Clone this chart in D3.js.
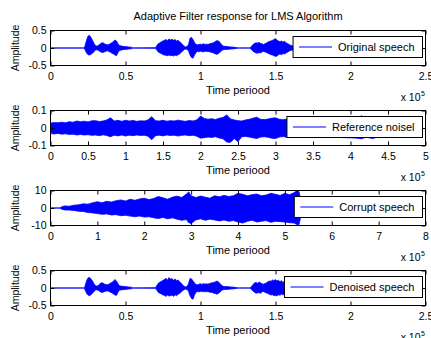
<!DOCTYPE html>
<html>
<head>
<meta charset="utf-8">
<script src="https://cdn.jsdelivr.net/npm/d3@7"></script>
<style>
  body { margin: 0; background: #fff; }
  svg { display: block; font-family: Arial, "Liberation Sans", sans-serif; }
</style>
</head>
<body>
<script>
// ---- data (time in units of 1e5 samples, envelope of each waveform) ----
var chartTitle = "Adaptive Filter response for LMS Algorithm";
var legendLabels = ["Original speech", "Reference noisel", "Corrupt speech", "Denoised speech"];
var xLabel = "Time periood";
var yLabel = "Amplitude";

var speechT = [0, 0.225,
  0.23, 0.24, 0.25, 0.26, 0.27, 0.28, 0.29, 0.30, 0.31, 0.32, 0.33, 0.34, 0.35, 0.36, 0.37, 0.38, 0.39, 0.40, 0.41, 0.42, 0.43, 0.44, 0.45, 0.46,
  0.48, 0.50, 0.52, 0.54, 0.55,
  0.70, 0.71, 0.72, 0.73, 0.74, 0.75, 0.76, 0.77, 0.78, 0.79, 0.80, 0.81, 0.82, 0.83, 0.84, 0.85, 0.86, 0.87, 0.88, 0.89,
  0.90, 0.91, 0.92, 0.93, 0.94, 0.95, 0.96, 0.97, 0.98, 0.99, 1.00, 1.01, 1.02, 1.03, 1.04, 1.05, 1.06, 1.07, 1.08, 1.09, 1.10, 1.11, 1.12, 1.13, 1.14, 1.15, 1.16,
  1.18, 1.20, 1.23, 1.25, 1.33,
  1.34, 1.35, 1.36, 1.37, 1.38, 1.39, 1.40, 1.41, 1.42, 1.43, 1.44, 1.45, 1.46, 1.47, 1.48, 1.49, 1.50, 1.51, 1.52, 1.53, 1.54, 1.55, 1.56, 1.57, 1.58, 1.59, 1.60,
  1.62, 1.64, 1.66];

var origHi = [0, 0,
  0.06, 0.22, 0.34, 0.36, 0.3, 0.22, 0.13, 0.07, 0.05, 0.08, 0.11, 0.14, 0.15, 0.12, 0.1, 0.09, 0.1, 0.13, 0.15, 0.19, 0.23, 0.2, 0.12, 0.07,
  0.05, 0.04, 0.03, 0.02, 0,
  0.01, 0.08, 0.13, 0.15, 0.18, 0.2, 0.22, 0.24, 0.21, 0.26, 0.23, 0.25, 0.22, 0.24, 0.2, 0.22, 0.18, 0.15, 0.1, 0.06,
  0.03, 0.04, 0.1, 0.28, 0.3, 0.24, 0.16, 0.1, 0.09, 0.1, 0.11, 0.1, 0.12, 0.1, 0.11, 0.1, 0.12, 0.13, 0.14, 0.16, 0.19, 0.21, 0.2, 0.16, 0.1, 0.06, 0.05,
  0.04, 0.03, 0.02, 0, 0,
  0.05, 0.1, 0.13, 0.15, 0.14, 0.16, 0.13, 0.12, 0.1, 0.12, 0.14, 0.17, 0.19, 0.2, 0.22, 0.24, 0.27, 0.22, 0.2, 0.18, 0.2, 0.17, 0.19, 0.15, 0.13, 0.1, 0.08,
  0.05, 0.03, 0];
var origLo = [0, 0,
  -0.05, -0.14, -0.19, -0.2, -0.18, -0.15, -0.1, -0.06, -0.05, -0.07, -0.1, -0.12, -0.13, -0.11, -0.09, -0.08, -0.1, -0.12, -0.15, -0.17, -0.2, -0.22, -0.13, -0.07,
  -0.05, -0.04, -0.03, -0.02, 0,
  -0.01, -0.07, -0.12, -0.14, -0.16, -0.19, -0.2, -0.21, -0.22, -0.2, -0.22, -0.21, -0.23, -0.2, -0.22, -0.19, -0.17, -0.13, -0.09, -0.05,
  -0.03, -0.04, -0.08, -0.2, -0.27, -0.29, -0.2, -0.13, -0.1, -0.11, -0.09, -0.1, -0.11, -0.09, -0.1, -0.1, -0.11, -0.12, -0.13, -0.15, -0.17, -0.18, -0.16, -0.12, -0.08, -0.05, -0.04,
  -0.04, -0.03, -0.02, 0, 0,
  -0.05, -0.09, -0.12, -0.14, -0.15, -0.13, -0.14, -0.11, -0.1, -0.11, -0.13, -0.15, -0.17, -0.19, -0.2, -0.22, -0.24, -0.23, -0.19, -0.17, -0.19, -0.16, -0.17, -0.14, -0.12, -0.09, -0.07,
  -0.05, -0.03, 0];

var denHi = [0, 0,
  0.05, 0.2, 0.29, 0.3, 0.26, 0.2, 0.12, 0.07, 0.05, 0.08, 0.12, 0.15, 0.14, 0.11, 0.1, 0.09, 0.11, 0.14, 0.16, 0.2, 0.24, 0.2, 0.12, 0.06,
  0.05, 0.04, 0.03, 0.02, 0,
  0.01, 0.08, 0.14, 0.17, 0.19, 0.22, 0.24, 0.28, 0.22, 0.3, 0.25, 0.27, 0.22, 0.26, 0.21, 0.23, 0.18, 0.14, 0.09, 0.05,
  0.03, 0.04, 0.12, 0.27, 0.26, 0.2, 0.14, 0.1, 0.09, 0.11, 0.12, 0.1, 0.13, 0.11, 0.12, 0.11, 0.13, 0.14, 0.15, 0.16, 0.18, 0.2, 0.17, 0.13, 0.08, 0.05, 0.04,
  0.04, 0.03, 0.02, 0, 0,
  0.04, 0.1, 0.14, 0.16, 0.13, 0.17, 0.15, 0.12, 0.11, 0.13, 0.15, 0.18, 0.2, 0.19, 0.23, 0.21, 0.24, 0.2, 0.22, 0.18, 0.21, 0.16, 0.2, 0.14, 0.12, 0.09, 0.07,
  0.05, 0.03, 0];
var denLo = [0, 0,
  -0.05, -0.15, -0.2, -0.22, -0.19, -0.15, -0.1, -0.06, -0.05, -0.07, -0.1, -0.13, -0.12, -0.1, -0.09, -0.08, -0.1, -0.12, -0.14, -0.17, -0.2, -0.21, -0.12, -0.06,
  -0.05, -0.04, -0.03, -0.02, 0,
  -0.01, -0.07, -0.13, -0.15, -0.17, -0.2, -0.21, -0.24, -0.2, -0.23, -0.22, -0.2, -0.24, -0.19, -0.22, -0.18, -0.16, -0.12, -0.08, -0.05,
  -0.03, -0.04, -0.09, -0.22, -0.3, -0.32, -0.2, -0.12, -0.1, -0.11, -0.1, -0.09, -0.11, -0.1, -0.11, -0.1, -0.12, -0.12, -0.13, -0.15, -0.16, -0.18, -0.15, -0.12, -0.07, -0.05, -0.04,
  -0.04, -0.03, -0.02, 0, 0,
  -0.04, -0.09, -0.12, -0.15, -0.14, -0.13, -0.15, -0.11, -0.1, -0.12, -0.14, -0.16, -0.18, -0.2, -0.19, -0.22, -0.21, -0.23, -0.19, -0.21, -0.17, -0.2, -0.16, -0.13, -0.11, -0.08, -0.06,
  -0.05, -0.03, 0];

var noiseT = [0, 0.05, 0.1, 0.15, 0.2, 0.25, 0.3, 0.35, 0.4, 0.45,
  0.5, 0.55, 0.6, 0.65, 0.7, 0.75, 0.8, 0.85, 0.9, 0.95,
  1.0, 1.05, 1.1, 1.15, 1.2, 1.25, 1.3, 1.35, 1.4, 1.45,
  1.5, 1.55, 1.6, 1.65, 1.7, 1.75, 1.8, 1.85, 1.9, 1.95,
  2.0, 2.05, 2.1, 2.15, 2.2, 2.25, 2.3, 2.35, 2.4, 2.45,
  2.5, 2.55, 2.6, 2.65, 2.7, 2.75, 2.8, 2.85, 2.9, 2.95,
  3.0, 3.05, 3.1, 3.15, 3.2,
  3.3, 3.4, 3.5, 3.6, 3.7, 3.8, 3.9, 4.0, 4.1, 4.15, 4.2, 4.3, 4.4];
var noiseHi = [0.028, 0.031, 0.03, 0.033, 0.03, 0.036, 0.033, 0.04, 0.036, 0.039,
  0.035, 0.041, 0.042, 0.037, 0.04, 0.046, 0.058, 0.04, 0.044, 0.038,
  0.044, 0.04, 0.043, 0.038, 0.041, 0.04, 0.046, 0.065, 0.042, 0.04,
  0.044, 0.039, 0.042, 0.04, 0.045, 0.041, 0.038, 0.043, 0.04, 0.046,
  0.068, 0.055, 0.05, 0.053, 0.048, 0.056, 0.06, 0.075, 0.052, 0.046,
  0.042, 0.04, 0.046, 0.05, 0.056, 0.062, 0.05, 0.048, 0.051, 0.056,
  0.058, 0.05, 0.047, 0.051, 0.048,
  0.05, 0.048, 0.052, 0.05, 0.047, 0.05, 0.053, 0.055, 0.06, 0.07, 0.052, 0.05, 0.04];
var noiseLo = [-0.032, -0.034, -0.031, -0.035, -0.033, -0.037, -0.035, -0.04, -0.037, -0.04,
  -0.038, -0.042, -0.04, -0.044, -0.039, -0.043, -0.05, -0.041, -0.045, -0.04,
  -0.046, -0.041, -0.044, -0.04, -0.043, -0.041, -0.047, -0.067, -0.044, -0.041,
  -0.045, -0.04, -0.043, -0.041, -0.046, -0.042, -0.04, -0.044, -0.041, -0.047,
  -0.058, -0.055, -0.052, -0.054, -0.05, -0.057, -0.062, -0.08, -0.082, -0.06,
  -0.078, -0.05, -0.048, -0.052, -0.056, -0.06, -0.052, -0.05, -0.053, -0.058,
  -0.06, -0.052, -0.049, -0.053, -0.05,
  -0.052, -0.05, -0.054, -0.052, -0.05, -0.052, -0.055, -0.056, -0.058, -0.062, -0.052, -0.06, -0.045];

var corruptT = [0, 0.2, 0.25,
  0.3, 0.4, 0.5, 0.6, 0.7, 0.8, 0.9, 1.0, 1.1, 1.2, 1.3, 1.4, 1.5, 1.6, 1.7, 1.8, 1.9, 2.0, 2.1, 2.2, 2.3, 2.4, 2.5, 2.6, 2.7, 2.8, 2.9,
  2.95,
  3.0, 3.1, 3.2, 3.3, 3.4, 3.5, 3.6, 3.7, 3.8, 3.9, 4.0, 4.1, 4.2, 4.3, 4.4, 4.5, 4.6, 4.7, 4.8, 4.9, 5.0, 5.1, 5.2,
  5.25, 5.3, 5.33, 5.35];
var corruptHi = [0, 0, 0.8,
  1.2, 1.0, 1.6, 1.8, 2.4, 2.2, 3.0, 3.6, 3.0, 3.8, 3.4, 4.2, 4.6, 4.0, 5.0, 4.4, 5.2, 5.6, 4.8, 5.4, 6.6, 5.8, 5.0, 6.2, 6.8, 6.0, 8.0,
  9.2,
  7.0, 6.0, 6.8, 6.2, 5.6, 7.0, 6.4, 7.2, 6.6, 7.0, 8.4, 7.8, 7.0, 7.6, 8.0, 7.0, 7.4, 8.4, 7.8, 7.2, 8.4, 7.6, 8.8,
  9.8, 9.4, 6.0, 0];
var corruptLo = [0, 0, -0.8,
  -1.1, -1.2, -1.4, -1.9, -2.0, -2.6, -2.8, -3.2, -3.6, -3.4, -4.0, -3.8, -4.4, -4.2, -4.6, -5.0, -4.6, -5.2, -5.0, -5.6, -6.0, -5.4, -6.2, -5.6, -6.4, -7.0, -6.6,
  -8.4,
  -8.8, -6.8, -6.2, -7.0, -6.4, -6.8, -7.4, -6.8, -7.6, -7.2, -8.0, -8.6, -7.6, -7.0, -8.0, -7.6, -7.2, -8.2, -7.6, -7.8, -8.0, -8.4, -8.6,
  -9.4, -9.6, -6.0, 0];

var xTicksSpeech = [0, 0.5, 1, 1.5, 2, 2.5];
var xTicksNoise = [0, 0.5, 1, 1.5, 2, 2.5, 3, 3.5, 4, 4.5, 5];
var xTicksCorrupt = [0, 1, 2, 3, 4, 5, 6, 7, 8];
var yTicksSpeech = [-0.5, 0, 0.5];
var yTicksNoise = [-0.1, 0, 0.1];
var yTicksCorrupt = [-10, 0, 10];

// ---- layout ----
var width = 431, height = 338;
var left = 50.5, plotW = 375, plotH = 35;
var tops = [30.5, 110.5, 190.5, 270.5];

var panels = [
  {t: speechT, hi: origHi, lo: origLo, xTicks: xTicksSpeech, yTicks: yTicksSpeech, label: legendLabels[0]},
  {t: noiseT, hi: noiseHi, lo: noiseLo, xTicks: xTicksNoise, yTicks: yTicksNoise, label: legendLabels[1]},
  {t: corruptT, hi: corruptHi, lo: corruptLo, xTicks: xTicksCorrupt, yTicks: yTicksCorrupt, label: legendLabels[2]},
  {t: speechT, hi: denHi, lo: denLo, xTicks: xTicksSpeech, yTicks: yTicksSpeech, label: legendLabels[3]}
];

var svg = d3.select("body").append("svg")
    .attr("width", width)
    .attr("height", height);

svg.append("text")
    .attr("x", left + plotW / 2)
    .attr("y", 20)
    .attr("text-anchor", "middle")
    .attr("font-size", "11px")
    .text(chartTitle);

var fmt = function(d) { return String(d); };

panels.forEach(function(p, k) {
  var g = svg.append("g")
      .attr("transform", "translate(" + left + "," + tops[k] + ")");

  var x = d3.scaleLinear()
      .domain([p.xTicks[0], p.xTicks[p.xTicks.length - 1]])
      .range([0, plotW]);
  var y = d3.scaleLinear()
      .domain([p.yTicks[0], p.yTicks[p.yTicks.length - 1]])
      .range([plotH, 0]);

  g.append("clipPath").attr("id", "clip" + k)
    .append("rect").attr("width", plotW).attr("height", plotH);

  var area = d3.area()
      .x(function(i) { return x(p.t[i]); })
      .y0(function(i) { return y(p.lo[i]); })
      .y1(function(i) { return y(p.hi[i]); });

  g.append("path")
      .datum(d3.range(p.t.length))
      .attr("clip-path", "url(#clip" + k + ")")
      .attr("d", area)
      .attr("fill", "#0000ff")
      .attr("stroke", "#0000ff")
      .attr("stroke-width", 0.8)
      .attr("stroke-linejoin", "round");

  // box
  g.append("rect")
      .attr("width", plotW)
      .attr("height", plotH)
      .attr("fill", "none")
      .attr("stroke", "#000");

  var xb = g.append("g")
      .attr("transform", "translate(0," + plotH + ")")
      .call(d3.axisBottom(x).tickValues(p.xTicks).tickFormat(fmt).tickSize(-4).tickPadding(7));
  var xt = g.append("g")
      .call(d3.axisTop(x).tickValues(p.xTicks).tickFormat("").tickSize(-4));
  var yl = g.append("g")
      .call(d3.axisLeft(y).tickValues(p.yTicks).tickFormat(fmt).tickSize(-4).tickPadding(4));
  var yr = g.append("g")
      .attr("transform", "translate(" + plotW + ",0)")
      .call(d3.axisRight(y).tickValues(p.yTicks).tickFormat("").tickSize(-4));

  [xb, xt, yl, yr].forEach(function(a) {
    a.select(".domain").remove();
    a.selectAll("line").attr("stroke", "#000");
    a.selectAll("text").attr("fill", "#000")
        .attr("font-family", "Arial, 'Liberation Sans', sans-serif")
        .attr("font-size", "10.5px");
  });

  g.append("text")
      .attr("x", plotW / 2)
      .attr("y", plotH + 28)
      .attr("text-anchor", "middle")
      .attr("font-size", "11px")
      .text(xLabel);

  g.append("text")
      .attr("x", plotW - 5)
      .attr("y", plotH + 35)
      .attr("text-anchor", "end")
      .attr("font-size", "10.5px")
      .text("x 10");
  g.append("text")
      .attr("x", plotW - 4.5)
      .attr("y", plotH + 30)
      .attr("font-size", "7px")
      .text("5");

  g.append("text")
      .attr("transform", "translate(-32," + (plotH / 2) + ") rotate(-90)")
      .attr("text-anchor", "middle")
      .attr("font-size", "10.5px")
      .text(yLabel);

  // legend
  var lg = g.append("g");
  var box = lg.append("rect")
      .attr("y", 6)
      .attr("height", 21)
      .attr("fill", "#fff")
      .attr("stroke", "#000");
  var lt = lg.append("text")
      .attr("y", 16.5)
      .attr("dy", "0.35em")
      .attr("font-size", "11px")
      .text(p.label);
  var tw = lt.node().getComputedTextLength();
  var bw = 6 + 33 + 6 + tw + 8;
  var bx = plotW - 3 - bw;
  box.attr("x", bx).attr("width", bw);
  lg.append("line")
      .attr("x1", bx + 6).attr("x2", bx + 39)
      .attr("y1", 16.5).attr("y2", 16.5)
      .attr("stroke", "#0000ff");
  lt.attr("x", bx + 45);
});
</script>
</body>
</html>
